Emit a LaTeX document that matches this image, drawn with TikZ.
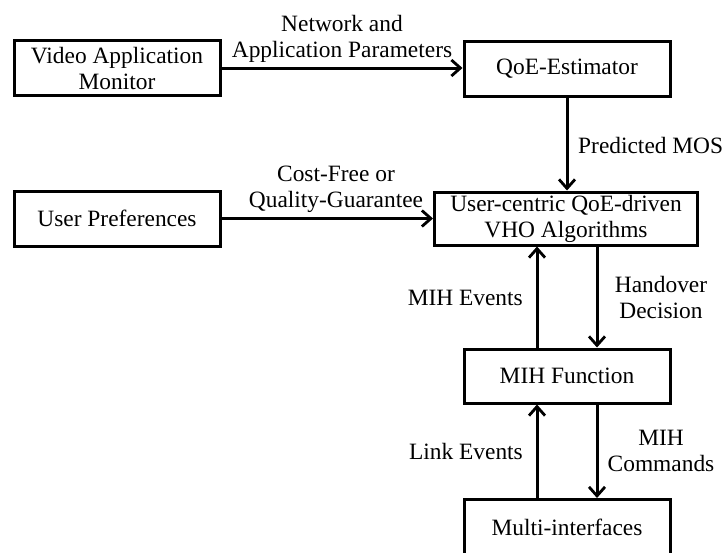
\documentclass[tikz,border=0pt]{standalone}
\usepackage{fontspec}
\setmainfont{Liberation Serif}
\usetikzlibrary{arrows.meta}
\begin{document}
\begin{tikzpicture}[x=1pt,y=-1pt,
  font=\fontsize{23.4}{26}\selectfont,
  box/.style={draw, line width=3pt, inner sep=0pt, align=center, minimum height=55pt},
  conn/.style={line width=3pt, -{Straight Barb[length=9pt,width=16pt,line width=2.8pt]}},
  lbl/.style={inner sep=0pt, align=center}]
\useasboundingbox (0,0) rectangle (722,552);
\begin{scope}
\clip (0,0) rectangle (722,552);
\node[box, minimum width=206pt] (vam) at (117,68) {Video Application\\Monitor};
\node[box, minimum width=206pt] (qoe) at (567,68.5) {QoE-Estimator};
\node[box, minimum width=206pt] (up) at (117,218.5) {User Preferences};
\node[box, minimum width=263pt, minimum height=53pt] (vho) at (566,218.5) {User-centric QoE-driven\\VHO Algorithms};
\node[box, minimum width=206pt, minimum height=54pt] (mih) at (567,376) {MIH Function};
\node[box, minimum width=206pt] (mi) at (567,527) {Multi-interfaces};
\end{scope}
\draw[conn] (vam.east) -- (vam.east -| qoe.west);
\draw[conn] (up.east) -- (up.east -| vho.west);
\draw[conn] (qoe.south) -- (qoe.south |- vho.north);
\draw[conn] ([xshift=-30pt]mih.north) -- ([xshift=-30pt]mih.north |- vho.south);
\draw[conn] ([xshift=30pt]mih.north |- vho.south) -- ([xshift=30pt]mih.north);
\draw[conn] ([xshift=-30pt]mi.north) -- ([xshift=-30pt]mi.north |- mih.south);
\draw[conn] ([xshift=30pt]mi.north |- mih.south) -- ([xshift=30pt]mi.north);
\node[lbl] (l1) at (342,38.5) {Network and\\Application Parameters};
\node[lbl] (l2) at (336,189.5) {Cost-Free or\\Quality-Guarantee};
\node[lbl, anchor=west] (l3) at (578,145) {Predicted MOS};
\node[lbl, anchor=east] (l4) at (523,298) {MIH Events};
\node[lbl] (l5) at (661,297.5) {Handover\\Decision};
\node[lbl, anchor=east] (l6) at (523,451) {Link Events};
\node[lbl] (l7) at (661,450.5) {MIH\\Commands};
\end{tikzpicture}
\end{document}
